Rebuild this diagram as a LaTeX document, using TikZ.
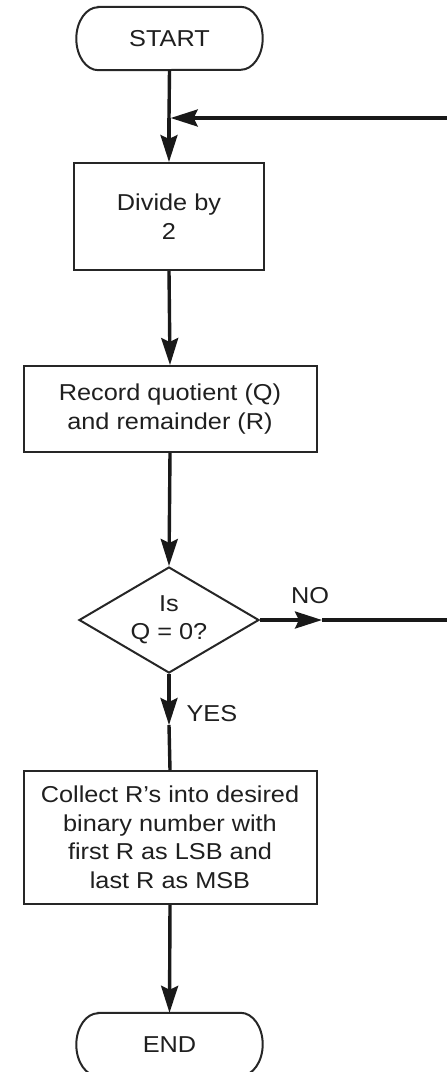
\documentclass[tikz,border=0pt]{standalone}
\usepackage{fontspec}
\setmainfont{Liberation Sans}[FakeStretch=1.1]
\usetikzlibrary{arrows.meta,shapes.geometric}

\tikzset{
  txt/.style={font=\fontsize{23}{28.5}\selectfont, text=black!88},
  box/.style={txt, draw=black!85, line width=2pt, rectangle, align=center, inner sep=0pt},
  term/.style={txt, align=center, inner sep=0pt, minimum width=186pt, minimum height=63pt},
  outline/.style={draw=black!85, line width=2pt},
  decision/.style={txt, draw=black!85, line width=2pt, diamond, aspect=1.7, align=center,
                   minimum width=180pt, minimum height=106pt, inner sep=0pt},
  flow/.style={draw=black!90, line width=3.4pt},
  tip/.style={-{Stealth[length=27pt,width=17pt,inset=4pt]}},
}

\begin{document}
\begin{tikzpicture}[x=1pt,y=-1pt]
  \useasboundingbox (0,0) rectangle (447,1072);

  % blocks of the flow chart
  \node[term] (start) at (169.5,38.5) {START};
  \node[box, minimum width=190pt, minimum height=107pt] (divide) at (169,216.5) {Divide by\\2};
  \node[box, minimum width=293pt, minimum height=86pt] (record) at (170,409) {Record quotient (Q)\\and remainder (R)};
  \node[decision] (test) at (169,620) {Is\\Q = 0?};
  \node[box, minimum width=293pt, minimum height=133pt] (collect) at (170,837.5)
    {Collect R's into desired\\binary number with\\first R as LSB and\\last R as MSB};
  \node[term] (end) at (169.5,1044.5) {END};

  % terminal outlines with elliptic ends
  \foreach \n in {start,end}
    \draw[outline] ([xshift=22pt]\n.north west) -- ([xshift=-22pt]\n.north east)
      arc[start angle=90, end angle=-90, x radius=22pt, y radius=31.5pt]
      -- ([xshift=22pt]\n.south west)
      arc[start angle=270, end angle=90, x radius=22pt, y radius=31.5pt] -- cycle;

  % junction points of the loop
  \coordinate (join) at (169,118);
  \coordinate (noTip) at (322,620);
  \coordinate (outR) at (455,620);
  \coordinate (backR) at (455,118);
  \coordinate (yesTip) at (169,725);

  % main line
  \draw[flow] (start.south) -- (join);
  \draw[flow, tip] (join) -- (divide.north);
  \draw[flow, tip] (divide.south) -- (record.north);
  \draw[flow, tip] (record.south) -- (test.north);
  \draw[flow, tip] (test.south) -- (yesTip);
  \draw[flow] (yesTip) -- (collect.north);
  \draw[flow, tip] (collect.south) -- (end.north);

  % NO branch returning to the divide step
  \draw[flow, tip] (test.east) -- (noTip);
  \draw[flow, tip, shorten >=1.7pt] (noTip) -- (outR) -- (backR) -- (join);

  % branch labels
  \node[txt] (no) at (310,596) {NO};
  \node[txt, anchor=west] (yes) at (183,714) {YES};
\end{tikzpicture}
\end{document}
